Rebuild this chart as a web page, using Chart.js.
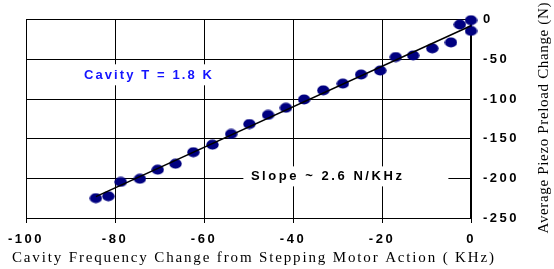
<!DOCTYPE html>
<html>
<head>
<meta charset="utf-8">
<script src="https://cdn.jsdelivr.net/npm/chart.js@4/dist/chart.umd.min.js"></script>
<style>
  html, body { margin: 0; padding: 0; background: #fff; }
  #wrap { width: 554px; height: 269px; }
</style>
</head>
<body>
<div id="wrap"><canvas id="chart" width="554" height="269"></canvas></div>
<script>
// measured points (KHz, N)
const freqShift = [-84.3, -81.5, -78.7, -74.4, -70.4, -66.4, -62.4, -58.1, -53.9, -49.8, -45.6, -41.6,
  -37.5, -33.2, -28.8, -24.7, -20.4, -16.9, -13.0, -8.7, -4.5, -2.5, 0.0, 0.0];
const preloadChange = [-225, -222.5, -204.5, -200.5, -189, -181.5, -167, -157.5, -144, -131.5, -120, -111,
  -100.5, -89, -80.5, -69, -64, -47, -45, -36, -28.5, -6, -0.5, -14];

// fitted line
const fitX = [-84.3, 0];
const fitY = [-223, -7.5];

const xTicks = [-100, -80, -60, -40, -20, 0];
const yTicks = [0, -50, -100, -150, -200, -250];

const xTitle = 'Cavity Frequency Change from Stepping Motor Action ( KHz)';
const yTitle = 'Average Piezo Preload Change (N)';
const noteTemp = 'Cavity T = 1.8 K';
const noteSlope = 'Slope ~ 2.6 N/KHz';

const SANS = 'Arial, "Liberation Sans", sans-serif';
const SERIF = '"Times New Roman", "Liberation Serif", serif';

// ellipse marker
function makeDot() {
  const c = document.createElement('canvas');
  c.width = 13; c.height = 11;
  const g = c.getContext('2d');
  g.fillStyle = '#000080';
  g.beginPath();
  g.ellipse(6.5, 5.5, 6.2, 5.1, 0, 0, Math.PI * 2);
  g.fill();
  return c;
}
const dot = makeDot();

// spread text to a target width
function spacedText(ctx, text, x, y, width) {
  ctx.letterSpacing = '0px';
  const w0 = ctx.measureText(text).width;
  const sp = (width - w0) / (text.length - 1);
  ctx.letterSpacing = sp + 'px';
  ctx.textAlign = 'left';
  ctx.fillText(text, x - width / 2, y);
}

const notes = {
  id: 'notes',
  beforeDraw(chart) {
    chart.ctx.letterSpacing = '2.5px';
  },
  beforeDatasetsDraw(chart) {
    const { ctx, scales: { x, y } } = chart;
    ctx.save();
    ctx.font = 'bold 13px ' + SANS;
    ctx.textBaseline = 'middle';

    let cx = x.getPixelForValue(-72.6), cy = y.getPixelForValue(-70);
    ctx.fillStyle = '#fff';
    ctx.fillRect(cx - 68, cy - 11, 136, 21);
    ctx.fillStyle = '#1414ff';
    spacedText(ctx, noteTemp, cx, cy, 128);

    cx = x.getPixelForValue(-32.5); cy = y.getPixelForValue(-197.5);
    ctx.fillStyle = '#fff';
    ctx.fillRect(cx - 83, cy - 10, 205, 20);
    ctx.fillStyle = '#000';
    spacedText(ctx, noteSlope, cx, cy, 151);
    ctx.restore();
  },
  afterDraw(chart) {
    const ctx = chart.ctx;
    ctx.save();
    ctx.fillStyle = '#000';
    ctx.font = '15px ' + SERIF;
    ctx.textBaseline = 'alphabetic';
    spacedText(ctx, xTitle, 253, 262, 482);

    ctx.translate(548, 118);
    ctx.rotate(-Math.PI / 2);
    ctx.font = '15px ' + SERIF;
    spacedText(ctx, yTitle, 0, 0, 231);
    ctx.restore();
  }
};

new Chart(document.getElementById('chart'), {
  type: 'scatter',
  data: {
    datasets: [
      {
        type: 'line',
        data: fitX.map((v, i) => ({ x: v, y: fitY[i] })),
        borderColor: '#000',
        borderWidth: 1.5,
        pointRadius: 0,
        fill: false,
        order: 0,
        clip: false
      },
      {
        data: freqShift.map((v, i) => ({ x: v, y: preloadChange[i] })),
        pointStyle: dot,
        pointRadius: 6,
        order: 1,
        clip: false
      }
    ]
  },
  options: {
    responsive: false,
    animation: false,
    layout: { padding: { left: 26, top: 18, right: 0, bottom: 0 } },
    plugins: { legend: { display: false }, tooltip: { enabled: false } },
    scales: {
      x: {
        type: 'linear',
        min: -100,
        max: 0,
        afterBuildTicks: s => { s.ticks = xTicks.map(v => ({ value: v })); },
        afterFit: s => { s.height = 51; },
        grid: { color: '#000', lineWidth: 1, tickLength: 5, tickColor: '#000' },
        border: { color: '#000', width: 1 },
        ticks: {
          color: '#000',
          font: { family: SANS, size: 13, weight: 'bold' },
          padding: 9,
          maxRotation: 0
        }
      },
      y: {
        type: 'linear',
        position: 'right',
        min: -250,
        max: 0,
        afterBuildTicks: s => { s.ticks = yTicks.map(v => ({ value: v })); },
        afterFit: s => { s.width = 83; },
        grid: { color: '#000', lineWidth: 1, drawTicks: false },
        border: { color: '#000', width: 1.3 },
        ticks: {
          color: '#000',
          font: { family: SANS, size: 13, weight: 'bold' },
          padding: 12
        }
      }
    }
  },
  plugins: [notes]
});
</script>
</body>
</html>
